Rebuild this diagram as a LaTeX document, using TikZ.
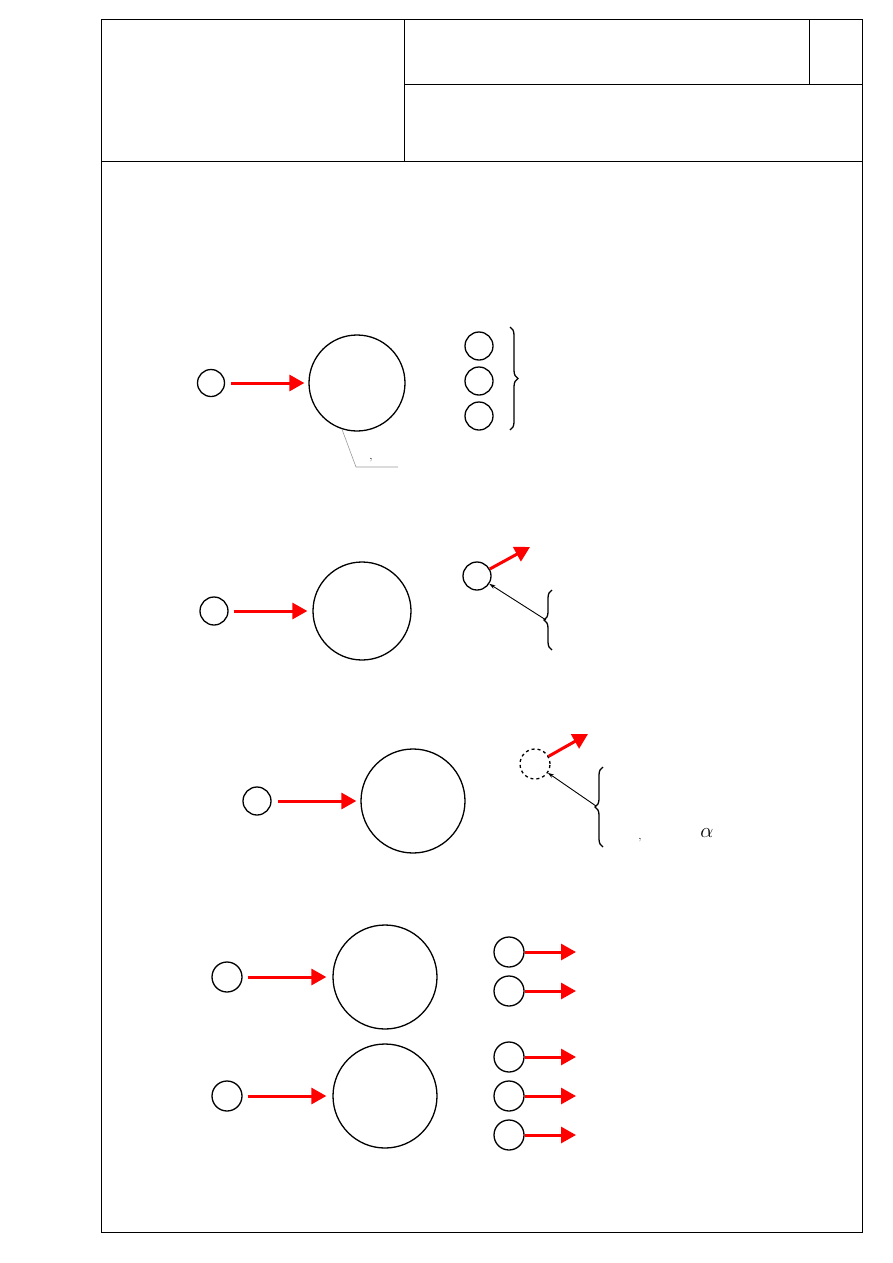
\documentclass[tikz,border=0pt]{standalone}
\usetikzlibrary{arrows.meta, positioning, decorations.pathreplacing}
\definecolor{cred}{HTML}{FF0000}
\definecolor{cgrey}{HTML}{9A9A9A}
\tikzset{
  every picture/.style={line width=1.3pt},
  ball/.style={circle, draw, minimum size=#1, inner sep=0pt},
  ball/.default=28pt,
  redarrow/.style={-{Triangle[length=15pt, width=16pt]}, draw=cred, line width=3pt},
  ptr/.style={-{Stealth[length=6pt, width=4pt]}, line width=0.9pt},
  leader/.style={draw=cgrey, line width=0.6pt},
  curly/.style={decorate, decoration={brace, amplitude=8pt}, line width=1.3pt},
  frameline/.style={line width=1pt},
  tick/.style={font=\large, inner sep=0pt},
}

\begin{document}
\begin{tikzpicture}[x=1pt, y=-1pt]
  \useasboundingbox (0,0) rectangle (893,1263);
  % title block and page frame
  \draw[frameline] (101,20) rectangle (862,1232);
  \draw[frameline] (101,161) -- (862,161);
  \draw[frameline] (404,20) -- (404,161);
  \draw[frameline] (404,84) -- (862,84);
  \draw[frameline] (809,20) -- (809,84);
  % row 1
  \node[ball=27pt] (in1) at (211,383) {};
  \node[ball=96pt] (big1) at (357,383) {};
  \draw[redarrow, shorten <=6pt, shorten >=4pt] (in1) -- (big1);
  \foreach \k/\y in {1/346, 2/381, 3/416} \node[ball=28pt] (s1\k) at (479,\y) {};
  \draw[curly] (510,327) -- (510,430);
  \coordinate (lead1) at (356,467);
  \coordinate (lead1e) at (398,467);
  \draw[leader] (big1.252) -- (lead1) -- (lead1e);
  \node[tick] (tick1) at (371,460) {,};
  % row 2
  \node[ball=28pt] (in2) at (214,611) {};
  \node[ball=98pt] (big2) at (362,611) {};
  \draw[redarrow, shorten <=5pt, shorten >=5pt] (in2) -- (big2);
  \node[ball=28pt] (s2) at (477,576) {};
  \coordinate (out2) at (530,547);
  \draw[redarrow] (s2) -- (out2);
  \draw[curly] (552,650) -- (552,590);
  \coordinate (tip2) at (546,620);
  \draw[ptr] (tip2) -- (s2);
  % row 3
  \node[ball=28pt] (in3) at (257,801) {};
  \node[ball=104pt] (big3) at (413,801) {};
  \draw[redarrow, shorten <=6pt, shorten >=4pt] (in3) -- (big3);
  \node[ball=30pt, dashed] (s3) at (535,764) {};
  \coordinate (out3) at (588,734);
  \draw[redarrow] (s3) -- (out3);
  \draw[curly] (603,847) -- (603,767);
  \coordinate (tip3) at (596,806);
  \draw[ptr] (tip3) -- (s3);
  \node[tick] (tick3) at (640,840) {,};
  \node[font=\fontsize{22}{24}\selectfont, inner sep=0pt] (alpha3) at (707,833) {$\alpha$};
  % rows 4 and 5
  \node[ball=30pt] (in4) at (227,977) {};
  \node[ball=104pt] (big4) at (385,977) {};
  \draw[redarrow, shorten <=5pt, shorten >=6pt] (in4) -- (big4);
  \node[ball=30pt] (in5) at (227,1096) {};
  \node[ball=104pt] (big5) at (385,1096) {};
  \draw[redarrow, shorten <=5pt, shorten >=6pt] (in5) -- (big5);
  \foreach \k/\y in {1/952, 2/991} {
    \node[ball=30pt] (s4\k) at (509,\y) {};
    \coordinate (o4\k) at (576,\y);
    \draw[redarrow] (s4\k) -- (o4\k);
  }
  \foreach \k/\y in {1/1057, 2/1096, 3/1135} {
    \node[ball=30pt] (s5\k) at (509,\y) {};
    \coordinate (o5\k) at (576,\y);
    \draw[redarrow] (s5\k) -- (o5\k);
  }
\end{tikzpicture}
\end{document}
